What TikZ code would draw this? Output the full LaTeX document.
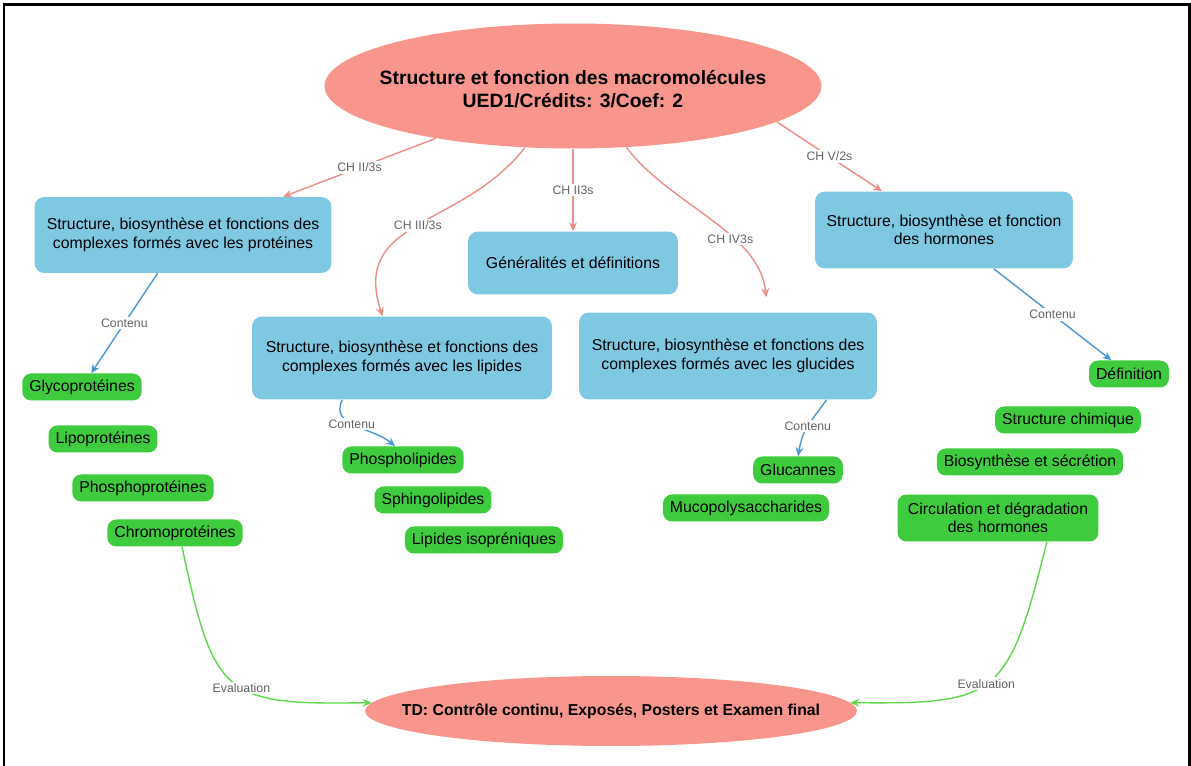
\documentclass[tikz,border=0pt]{standalone}
\usepackage{fontspec}
\setmainfont{Liberation Sans}
\usetikzlibrary{shapes.geometric, arrows.meta}
\definecolor{saumon}{RGB}{248,150,142}
\definecolor{bleuciel}{RGB}{126,200,226}
\definecolor{vertvif}{RGB}{62,204,62}
\definecolor{rougelien}{RGB}{238,140,134}
\definecolor{bleulien}{RGB}{72,152,214}
\definecolor{vertlien}{RGB}{92,216,72}
\definecolor{gris}{RGB}{100,100,100}
\tikzset{
  ovale/.style={ellipse, fill=saumon, inner sep=0pt},
  bloc/.style={rectangle, rounded corners=0.2cm, fill=bleuciel, align=center,
    font=\fontsize{9}{10.5}\selectfont},
  feuille/.style={rectangle, rounded corners=0.18cm, fill=vertvif, minimum height=0.54cm,
    inner xsep=0.14cm, inner ysep=0pt, align=center, font=\fontsize{9}{10.5}\selectfont},
  etiquette/.style={fill=white, inner sep=1pt, text=gris, font=\fontsize{7}{8}\selectfont},
  lienrouge/.style={rougelien, line width=0.8pt, -{Stealth[length=5pt, width=4.5pt]}},
  lienbleu/.style={bleulien, line width=0.8pt, -{Stealth[length=5pt, width=4.5pt]}},
  lienvert/.style={vertlien, line width=0.8pt, -{Stealth[length=5pt, width=4.5pt]}},
}

\begin{document}
\begin{tikzpicture}[x=0.02cm, y=0.02cm]
    \useasboundingbox (0,0) rectangle (1191,-766);
    % Cadre
    \draw[line width=0.06cm] (4,-766) -- (4,-5) -- (1189,-5) -- (1189,-766);

    % Titre et evaluation
    \node[ovale, minimum width=9.94cm, minimum height=2.5cm,
      label={[align=center, yshift=-0.06cm, font=\bfseries\fontsize{11}{13}\selectfont]center:
        Structure et fonction des macromolécules\\UED1/Crédits: 3/Coef: 2}]
      (titre) at (573,-86) {};
    \node[ovale, minimum width=9.84cm, minimum height=1.4cm,
      label={[font=\bfseries\fontsize{9}{11}\selectfont]center:
        TD: Contrôle continu, Exposés, Posters et Examen final}]
      (examen) at (611,-711) {};

    % Chapitres
    \node[bloc, minimum width=5.94cm, minimum height=1.52cm] (proteines) at (183,-235)
      {Structure, biosynthèse et fonctions des\\complexes formés avec les protéines};
    \node[bloc, minimum width=4.2cm, minimum height=1.26cm] (generalites) at (573,-263)
      {Généralités et définitions};
    \node[bloc, minimum width=6.0cm, minimum height=1.66cm] (lipides) at (402,-358)
      {Structure, biosynthèse et fonctions des\\complexes formés avec les lipides};
    \node[bloc, minimum width=5.96cm, minimum height=1.74cm] (glucides) at (728,-356)
      {Structure, biosynthèse et fonctions des\\complexes formés avec les glucides};
    \node[bloc, minimum width=5.16cm, minimum height=1.54cm] (hormones) at (944,-230)
      {Structure, biosynthèse et fonction\\des hormones};

    % Contenus
    \node[feuille] (glyco) at (82,-387) {Glycoprotéines};
    \node[feuille] (lipo) at (103,-439) {Lipoprotéines};
    \node[feuille] (phosphoprot) at (143,-488) {Phosphoprotéines};
    \node[feuille] (chromo) at (175,-533) {Chromoprotéines};
    \node[feuille] (phospholip) at (403,-460) {Phospholipides};
    \node[feuille] (sphingo) at (433,-500) {Sphingolipides};
    \node[feuille] (isopren) at (484,-540) {Lipides isopréniques};
    \node[feuille] (glucannes) at (798,-470) {Glucannes};
    \node[feuille] (muco) at (746,-508) {Mucopolysaccharides};
    \node[feuille] (definition) at (1129,-374) {Définition};
    \node[feuille] (structchim) at (1068,-420) {Structure chimique};
    \node[feuille] (biosynth) at (1030,-462) {Biosynthèse et sécrétion};
    \node[feuille, minimum width=4.02cm, minimum height=0.94cm] (circulation) at (998,-518)
      {Circulation et dégradation\\des hormones};

    % Liens du titre vers les chapitres
    \draw[lienrouge] (titre) -- node[etiquette] {CH II/3s} (proteines);
    \draw[lienrouge] (titre) -- node[etiquette] {CH II3s} (generalites);
    \draw[lienrouge] (titre.232) to[out=232, in=108, looseness=1.2]
      node[etiquette] {CH III/3s} (lipides.115);
    \draw[lienrouge, shorten >=0.3cm] (titre.-49) .. controls (670,-205) and (760,-232) ..
      node[etiquette, pos=0.62] {CH IV3s} (glucides.48);
    \draw[lienrouge] (titre.-10) -- node[etiquette] {CH V/2s} (hormones.148);

    % Liens vers les contenus
    \draw[lienbleu] (proteines) -- node[etiquette] {Contenu} (glyco);
    \draw[lienbleu] (lipides.215) to[out=245, in=140, looseness=1.1]
      node[etiquette, pos=0.45] {Contenu} (phospholip.120);
    \draw[lienbleu] (glucides.-24) to[out=235, in=80, looseness=1.2]
      node[etiquette] {Contenu} (glucannes.north);
    \draw[lienbleu] (hormones) -- node[etiquette] {Contenu} (definition);

    % Evaluation
    \draw[lienvert] (chromo.-63) .. controls (214,-698) and (224,-705) ..
      node[etiquette, pos=0.55] {Evaluation} (examen.178);
    \draw[lienvert] (circulation.-26) .. controls (1008,-698) and (998,-704) ..
      node[etiquette, pos=0.52] {Evaluation} (examen.2);
\end{tikzpicture}
\end{document}
